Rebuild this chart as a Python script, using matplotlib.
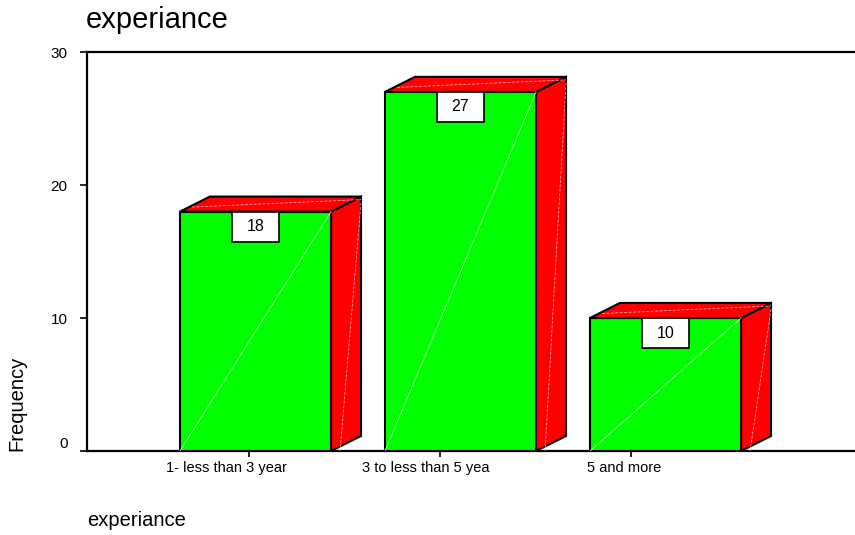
import numpy as np
import matplotlib.pyplot as plt
from matplotlib.patches import Polygon, Rectangle
from matplotlib.transforms import ScaledTranslation

plt.rcParams['font.family'] = ['Liberation Sans', 'DejaVu Sans']

categories = ['1- less than 3 year', '3 to less than 5 yea', '5 and more']
counts = [18, 27, 10]
yticks = [0, 10, 20, 30]

fig = plt.figure(figsize=(8.55, 5.35), dpi=100)
ax = fig.add_axes([87 / 855, 84 / 535, 768 / 855, 399 / 535])

w = 0.737      # bar width (in category spacing units)
dx = 0.146     # 3d depth, x
dy = 1.13      # 3d depth, y

for i, v in enumerate(counts):
    l, r = i - w / 2, i + w / 2
    front = Polygon([(l, 0), (r, 0), (r, v), (l, v)], closed=True,
                    facecolor='#00ff00', edgecolor='black', lw=1.5, zorder=3)
    side = Polygon([(r, 0), (r + dx, dy), (r + dx, v + dy), (r, v)], closed=True,
                   facecolor='#ff0000', edgecolor='black', lw=1.5, zorder=3)
    top = Polygon([(l, v), (l + dx, v + dy), (r + dx, v + dy), (r, v)], closed=True,
                  facecolor='#ff0000', edgecolor='black', lw=1.5, zorder=3)
    for p in (front, side, top):
        ax.add_patch(p)
    # faint shading lines
    ax.plot([l, r], [0, v], color='#b0ffb0', lw=0.6, zorder=4)
    ax.plot([r + dx, r + dx * 0.3], [v + dy * 0.6, 0], color='#ffa0a0', lw=0.6, ls='--', zorder=4)
    ax.plot([l + dx * 0.4, r + dx], [v + dy * 0.3, v + dy * 0.8], color='#ffa0a0', lw=0.6, ls='--', zorder=4)

    # value label box
    tr = fig.dpi_scale_trans + ScaledTranslation(i, v, ax.transData)
    ax.add_patch(Rectangle((-0.235, -0.30), 0.47, 0.30, transform=tr,
                           facecolor='white', edgecolor='black', lw=1.2, zorder=5, clip_on=False))
    ax.text(0, -0.15, str(v), transform=tr, ha='center', va='center',
            fontsize=11.5, zorder=6)

ax.set_xlim(-0.822, 2.924)
ax.set_ylim(0, 30)

ax.spines['right'].set_visible(False)
for s in ('left', 'bottom', 'top'):
    ax.spines[s].set_linewidth(1.6)

ax.set_yticks(yticks)
ax.set_yticklabels([str(t) for t in yticks], fontsize=11)
ax.tick_params(axis='y', direction='out', length=5, width=1.2, pad=9)
ax.get_yticklabels()[0].set_va('bottom')

tick_pos = [i * 0.93 - 0.03 for i in range(len(categories))]
ax.set_xticks(tick_pos)
ax.set_xticklabels([])
ax.tick_params(axis='x', direction='out', length=4, width=1.2)
for i, c in enumerate(categories):
    ax.text(tick_pos[i] - 0.11 + 0.04 * i, -0.75, c, ha='center', va='top', fontsize=10.5)

fig.text(86 / 855, 1 - 20 / 535, 'experiance', fontsize=21, ha='left', va='center')
fig.text(87 / 855, 1 - 520 / 535, 'experiance', fontsize=14.5, ha='left', va='center')
fig.text(17 / 855, 84 / 535, 'Frequency', fontsize=14.5, rotation=90, ha='center', va='bottom')

fig.savefig('out.png', dpi=100)
